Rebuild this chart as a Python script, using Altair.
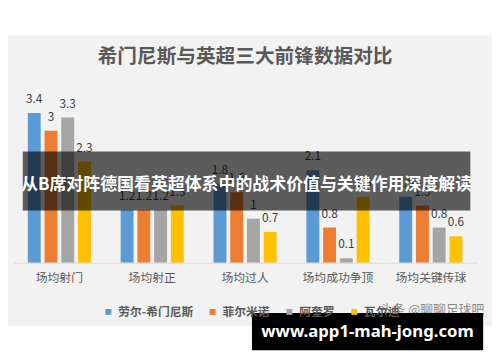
import altair as alt
import pandas as pd

categories = ["场均射门", "场均射正", "场均过人", "场均成功争顶", "场均关键传球"]
players = ["劳尔-希门尼斯", "菲尔米诺", "阿奎罗", "瓦尔迪"]
jimenez = [3.4, 1.2, 1.8, 2.1, 1.5]
firmino = [3.0, 1.2, 1.6, 0.8, 1.3]
aguero = [3.3, 1.2, 1.0, 0.1, 0.8]
vardy = [2.3, 1.3, 0.7, 1.5, 0.6]
colors = ["#5B9BD5", "#ED7D31", "#A5A5A5", "#FFC000"]

title_text = "希门尼斯与英超三大前锋数据对比"
banner_text = "从B席对阵德国看英超体系中的战术价值与关键作用深度解读"
source_text = "头条 @聊聊足球吧"
watermark_text = "www.app1-mah-jong.com"

FONT = "Noto Sans CJK SC"

rows = []
for p, vals in zip(players, [jimenez, firmino, aguero, vardy]):
    for c, v in zip(categories, vals):
        rows.append({"cat": c, "player": p, "value": v, "label": f"{v:g}"})
df = pd.DataFrame(rows)

base = alt.Chart(df).encode(
    x=alt.X("cat:N", sort=categories,
            scale=alt.Scale(paddingInner=0.32, paddingOuter=0.16),
            axis=alt.Axis(title=None, labelAngle=0, ticks=False, domainColor="#D9D9D9",
                          labelColor="#595959", labelFontSize=12, labelFont=FONT,
                          labelPadding=10, grid=False, zindex=1)),
    xOffset=alt.XOffset("player:N", sort=players,
                        scale=alt.Scale(paddingInner=0.23, paddingOuter=0)),
    y=alt.Y("value:Q", scale=alt.Scale(domain=[0, 4], nice=False), axis=None),
)

bars = base.mark_bar().encode(
    color=alt.Color("player:N", sort=players,
                    scale=alt.Scale(domain=players, range=colors),
                    legend=alt.Legend(title=None, orient="none", legendX=91, legendY=223,
                                      direction="horizontal", symbolType="square",
                                      symbolSize=36, symbolStrokeWidth=0,
                                      labelFontSize=12, labelColor="#595959",
                                      labelFont=FONT, labelFontWeight="bold",
                                      columnPadding=13, labelOffset=4, padding=0))
)

labels = base.mark_text(baseline="alphabetic", dy=-10, font=FONT, fontSize=12,
                        color="#404040").encode(text="label:N")

one = pd.DataFrame({"t": [0]})

bg = alt.Chart(one).mark_rect(color="#F2F2F2").encode(
    x=alt.value(-13), x2=alt.value(487), y=alt.value(-52), y2=alt.value(243))

banner_rect = alt.Chart(one).mark_rect(color="#000000", opacity=0.62).encode(
    x=alt.value(10), x2=alt.value(465), y=alt.value(66), y2=alt.value(126))
banner_txt = alt.Chart(pd.DataFrame({"t": [banner_text]})).mark_text(
    font=FONT, fontSize=17.2, fontWeight="bold", color="white", baseline="middle"
).encode(text="t:N", x=alt.value(237.5), y=alt.value(100))

src_txt = alt.Chart(pd.DataFrame({"t": [source_text]})).mark_text(
    font=FONT, fontSize=13, color="#7F7F7F", baseline="middle", opacity=0.9
).encode(text="t:N", x=alt.value(426), y=alt.value(227))

wm_rect = alt.Chart(one).mark_rect(color="#000000").encode(
    x=alt.value(243), x2=alt.value(478), y=alt.value(230), y2=alt.value(268))
wm_txt = alt.Chart(pd.DataFrame({"t": [watermark_text]})).mark_text(
    font="Noto Sans", fontSize=17, fontWeight="bold", color="white", baseline="middle"
).encode(text="t:N", x=alt.value(360.5), y=alt.value(250))

chart = alt.layer(bg, bars, labels, banner_rect, banner_txt, src_txt, wm_rect, wm_txt).properties(
    width=472, height=179,
    title=alt.TitleParams(text=title_text, font=FONT, fontSize=20, fontWeight="bold",
                          color="#595959", anchor="middle", frame="group",
                          baseline="middle", offset=-42),
    padding={"left": 5, "top": 77, "right": 15, "bottom": 98},
    autosize=alt.AutoSizeParams(type="none"),
    background="white",
).configure_view(stroke=None)

chart.save("out.html", embed_options={"renderer": "svg", "actions": False})
